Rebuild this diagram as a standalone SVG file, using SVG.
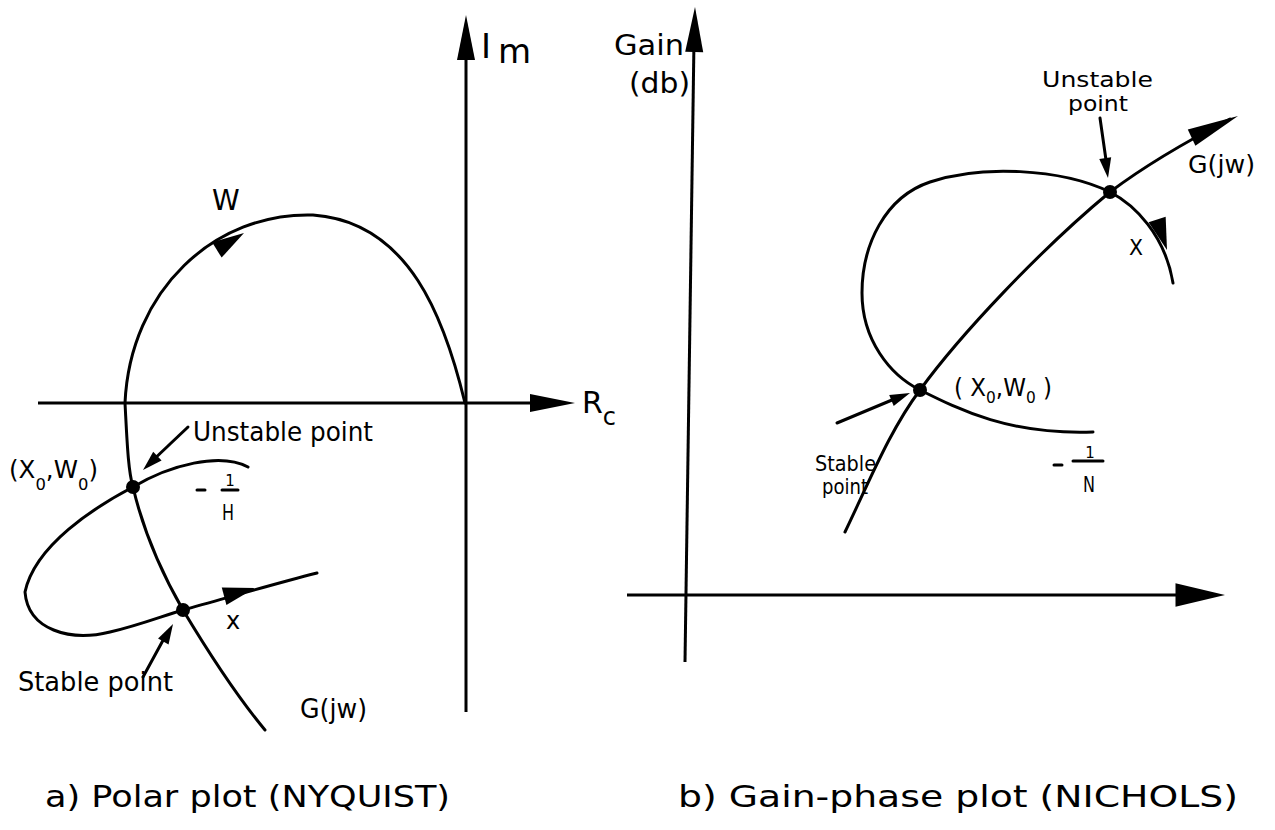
<svg xmlns="http://www.w3.org/2000/svg" xmlns:xlink="http://www.w3.org/1999/xlink" width="1275" height="830" viewBox="0 0 1275 830">
<style>
.ln{fill:none;stroke:#000;stroke-width:3;stroke-linecap:round}
.ax{fill:none;stroke:#000;stroke-width:3}
.t{font-family:"DejaVu Sans","Liberation Sans",sans-serif;fill:#000}
.c{font-family:"DejaVu Sans","Liberation Sans",sans-serif;fill:#000;font-size:30px}
.dot{fill:#000}
</style>
<defs>
<path id="ah" d="M0,0 L-32,-9 L-32,9 Z" fill="#000"/>
<path id="ahs" d="M0,0 L-20,-6 L-20,6 Z" fill="#000"/>
<path id="axl" d="M0,0 L-45,-9 L-45,9 Z" fill="#000"/>
</defs>
<rect width="1275" height="830" fill="#fff"/>

<g id="polar-axes">
<line class="ax" x1="466" y1="712" x2="466" y2="30"/>
<use xlink:href="#axl" transform="translate(466,15) rotate(-90)"/>
<line class="ax" x1="38" y1="403" x2="545" y2="403"/>
<use xlink:href="#axl" transform="translate(575,403)"/>
<text class="t" x="481" y="58" font-size="34">I<tspan x="498" dy="5" font-size="34">m</tspan></text>
<text class="t" x="582" y="413" font-size="30">R<tspan dy="12" font-size="24">c</tspan></text>
</g>

<g id="polar-curves">
<path class="ln" d="M465,403 C445,320 410,222 313,215 C215,212 130,290 125,403 C127,440 128,470 133,487 C143,530 160,570 183,610 C210,655 240,700 265,730"/>
<path class="ln" d="M248,467 C220,452 170,465 133,487 C95,507 35,545 25,592 C28,630 70,642 110,632 C140,625 165,615 183,610 C230,597 270,585 317,573"/>
<use xlink:href="#ah" transform="translate(244,233) rotate(-32)"/>
<use xlink:href="#ah" transform="translate(255,588) rotate(-15)"/>
<circle class="dot" cx="133" cy="487" r="7"/>
<circle class="dot" cx="183" cy="610" r="7"/>
</g>

<g id="polar-labels">
<text class="t" x="212" y="210" font-size="28">W</text>
<line class="ln" x1="188" y1="427" x2="150" y2="463"/>
<use xlink:href="#ahs" transform="translate(143,470) rotate(136)"/>
<text class="t" x="193" y="441" font-size="27" textLength="180" lengthAdjust="spacingAndGlyphs">Unstable point</text>
<text class="t" x="9" y="478" font-size="24" textLength="89" lengthAdjust="spacingAndGlyphs">(X<tspan dy="12" font-size="16">0</tspan><tspan dy="-12">,W</tspan><tspan dy="12" font-size="16">0</tspan><tspan dy="-12">)</tspan></text>
<line class="ln" x1="197" y1="490" x2="205" y2="490"/>
<line class="ln" x1="222" y1="490" x2="238" y2="490"/>
<text class="t" x="230" y="486" font-size="15" text-anchor="middle">1</text>
<text class="t" x="228" y="520" font-size="22" text-anchor="middle" textLength="12" lengthAdjust="spacingAndGlyphs">H</text>
<text class="t" x="226" y="629" font-size="24">x</text>
<line class="ln" x1="143" y1="677" x2="167" y2="633"/>
<use xlink:href="#ahs" transform="translate(173,624) rotate(-61)"/>
<text class="t" x="18" y="691" font-size="26" textLength="155" lengthAdjust="spacingAndGlyphs">Stable point</text>
<text class="t" x="300" y="718" font-size="26" textLength="67" lengthAdjust="spacingAndGlyphs">G(jw)</text>
</g>

<g id="nichols-axes">
<line class="ax" x1="685" y1="662" x2="694" y2="40"/>
<use xlink:href="#axl" transform="translate(695,7) rotate(-89)"/>
<line class="ax" x1="627" y1="595" x2="1185" y2="595"/>
<use xlink:href="#axl" transform="translate(1225,595) scale(1.1,1.3)"/>
<text class="t" x="614" y="55" font-size="29" textLength="70" lengthAdjust="spacingAndGlyphs">Gain</text>
<text class="t" x="629" y="93" font-size="29" textLength="61" lengthAdjust="spacingAndGlyphs">(db)</text>
</g>

<g id="nichols-curves">
<path class="ln" d="M845,532 C870,480 890,430 920,390 C960,335 1040,250 1110,192 C1150,162 1195,137 1230,119"/>
<path class="ln" d="M1110,192 C1060,168 980,165 930,182 C885,197 862,245 862,293 C862,340 890,375 920,390 C960,410 1010,435 1093,432"/>
<path class="ln" d="M1110,192 C1135,205 1165,235 1173,283"/>
<use xlink:href="#ah" transform="translate(1238,116) rotate(-25) scale(1.6,1.0)"/>
<use xlink:href="#ah" transform="translate(1167,250) rotate(72)"/>
<circle class="dot" cx="1110" cy="192" r="7"/>
<circle class="dot" cx="920" cy="390" r="7"/>
</g>

<g id="nichols-labels">
<text class="t" font-size="22"><tspan x="1042" y="87" textLength="111" lengthAdjust="spacingAndGlyphs">Unstable</tspan><tspan x="1068" y="111" textLength="60" lengthAdjust="spacingAndGlyphs">point</tspan></text>
<line class="ln" x1="1100" y1="118" x2="1106" y2="160"/>
<use xlink:href="#ahs" transform="translate(1108,178) rotate(82)"/>
<text class="t" x="1188" y="173" font-size="24" textLength="67" lengthAdjust="spacingAndGlyphs">G(jw)</text>
<text class="t" x="1129" y="255" font-size="22" textLength="14" lengthAdjust="spacingAndGlyphs">X</text>
<text class="t" x="954" y="396" font-size="24" textLength="98" lengthAdjust="spacingAndGlyphs">( X<tspan dy="7" font-size="16">0</tspan><tspan dy="-7">,W</tspan><tspan dy="7" font-size="16">0</tspan><tspan dy="-7"> )</tspan></text>
<line class="ln" x1="837" y1="423" x2="892" y2="400"/>
<use xlink:href="#ahs" transform="translate(910,393) rotate(-22)"/>
<text class="t" font-size="21"><tspan x="815" y="471" textLength="61" lengthAdjust="spacingAndGlyphs">Stable</tspan><tspan x="822" y="494" textLength="46" lengthAdjust="spacingAndGlyphs">point</tspan></text>
<line class="ln" x1="1054" y1="465" x2="1062" y2="465"/>
<line class="ln" x1="1073" y1="461" x2="1103" y2="461"/>
<text class="t" x="1090" y="458" font-size="15" text-anchor="middle">1</text>
<text class="t" x="1089" y="492" font-size="22" text-anchor="middle" textLength="12" lengthAdjust="spacingAndGlyphs">N</text>
</g>

<g id="captions">
<text class="c" x="45" y="807" textLength="405" lengthAdjust="spacingAndGlyphs">a) Polar plot (NYQUIST)</text>
<text class="c" x="678" y="807" textLength="560" lengthAdjust="spacingAndGlyphs">b) Gain-phase plot (NICHOLS)</text>
</g>
</svg>
